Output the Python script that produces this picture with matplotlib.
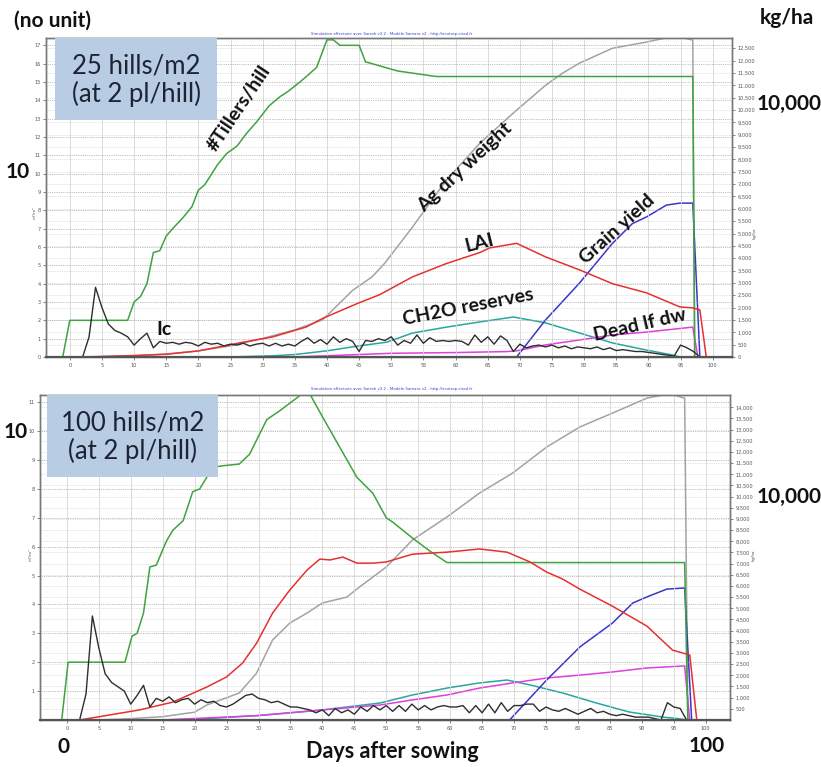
import matplotlib
matplotlib.use("Agg")
import matplotlib.pyplot as plt

# ---------------- DATA ----------------
# Top panel: 25 hills/m2
T_TILL_X = [-1.1, 0, 9, 10, 11, 12, 13, 14, 15, 16, 17.6, 19, 20, 21, 23, 24.4, 26, 27.5, 29, 31, 32.7, 34, 35.8, 36.8, 38.4, 40, 41, 42, 45, 46, 49, 51, 53, 57, 96.9, 97.2]
T_TILL_Y = [0, 2, 2, 3.0, 3.3, 4.0, 5.7, 5.8, 6.6, 7.0, 7.6, 8.2, 9.1, 9.4, 10.5, 11.1, 11.5, 12.2, 12.8, 13.7, 14.2, 14.5, 15.0, 15.3, 15.8, 17.3, 17.3, 17.0, 17.0, 16.1, 15.8, 15.6, 15.5, 15.3, 15.3, 0]

T_LAI_X = [2, 5, 10, 15, 20, 26.4, 31.6, 36.8, 39.3, 44.6, 48.2, 53.3, 58.6, 63.8, 65.3, 69.5, 74, 79.3, 84.4, 89.7, 94.9, 96.9, 98, 99]
T_LAI_Y = [0, 0.03, 0.08, 0.15, 0.33, 0.77, 1.1, 1.64, 2.1, 2.9, 3.4, 4.37, 5.1, 5.7, 5.95, 6.2, 5.46, 4.75, 4.0, 3.5, 2.73, 2.68, 2.57, 0]

T_AGDW_X = [3, 10, 15, 20, 25, 30, 35, 39.3, 44, 47, 49, 53.3, 58.6, 63.8, 69, 74, 76.7, 79.3, 84.4, 89.7, 93.3, 95, 96.9, 97.2]
T_AGDW_Y = [0, 50, 120, 250, 450, 750, 1100, 1500, 2700, 3240, 3800, 5260, 7170, 8660, 9880, 11000, 11500, 11900, 12500, 12750, 12950, 12950, 12830, 0]

T_GRAIN_X = [0, 69.5, 74, 79.3, 84.4, 87.5, 89.7, 92.8, 94.9, 96.9, 98]
T_GRAIN_Y = [0, 0, 1500, 3000, 4600, 5400, 5670, 6150, 6230, 6230, 0]

T_CH2O_X = [0, 25, 31.6, 35, 40, 45, 49.3, 53.3, 58.6, 63.8, 69, 74, 79.3, 84.4, 89.7, 93.8, 94.9]
T_CH2O_Y = [0, 0, 50, 100, 250, 450, 600, 970, 1210, 1420, 1620, 1380, 970, 570, 280, 80, 0]

T_DEAD_X = [0, 35, 40, 50, 60, 68, 69.5, 74, 79.3, 84.4, 89.7, 96.9, 97.7]
T_DEAD_Y = [0, 0, 50, 150, 180, 220, 250, 490, 690, 890, 1010, 1210, 0]

IC_DAYS = list(range(100))
T_IC = [0, 0, 0, 1.1, 3.8, 2.7, 1.8, 1.45, 1.3, 1.1,
        0.65, 1.0, 1.3, 0.5, 0.85, 0.75, 0.8, 0.7, 0.8, 0.75,
        0.6, 0.8, 0.7, 0.75, 0.6, 0.7, 0.65, 0.75, 0.6, 0.7,
        0.75, 0.6, 0.75, 0.6, 0.7, 0.6, 0.85, 1.05, 0.75, 0.95,
        0.7, 1.1, 0.8, 1.0, 0.85, 0.3, 0.9, 0.85, 1.0, 0.9,
        1.1, 0.65, 0.9, 0.75, 1.2, 0.75, 1.05, 0.85, 0.9, 0.85,
        0.9, 0.85, 0.65, 1.2, 0.8, 1.1, 0.7, 1.15, 0.9, 0.3,
        0.7, 0.5, 0.6, 0.65, 0.55, 0.65, 0.5, 0.6, 0.45, 0.55,
        0.5, 0.45, 0.55, 0.4, 0.5, 0.35, 0.4, 0.35, 0.3, 0.3,
        0.25, 0.2, 0.15, 0.1, 0.05, 0.65, 0.5, 0.3, 0.0, 0.0]

# Bottom panel: 100 hills/m2
B_TILL_X = [-0.8, 0.2, 9.1, 10.2, 11, 12, 13, 14, 15.6, 16.6, 18.2, 19.7, 20.8, 21.9, 22.8, 24.4, 27, 28.6, 31.3, 33.3, 35.4, 36.9, 38, 40, 42.7, 45.4, 47.9, 50, 51, 54.1, 56.8, 59.5, 96.7, 97.2]
B_TILL_Y = [0, 2, 2, 2.9, 3.0, 3.7, 5.3, 5.36, 6.2, 6.57, 6.9, 7.9, 8.0, 8.4, 8.75, 8.8, 8.86, 9.2, 10.4, 10.7, 11.05, 11.3, 11.3, 10.5, 9.45, 8.4, 7.85, 7.0, 6.85, 6.3, 5.85, 5.45, 5.45, 0]

B_LAI_X = [2, 11.4, 16.6, 21.9, 25, 27.5, 29.7, 32.2, 34.9, 37.6, 39.6, 41.2, 43.2, 45.4, 47.9, 50, 54.1, 59.5, 64.6, 68.9, 72.5, 75.1, 77.6, 80.3, 85.4, 90.8, 94.8, 97.5, 98.6]
B_LAI_Y = [0, 0.35, 0.62, 1.14, 1.49, 1.97, 2.66, 3.7, 4.5, 5.19, 5.57, 5.54, 5.64, 5.43, 5.43, 5.47, 5.74, 5.81, 5.92, 5.81, 5.47, 5.12, 4.88, 4.53, 3.94, 3.25, 2.42, 2.25, 0]

B_AGDW_X = [5, 10, 15, 20, 21.9, 27, 29.7, 32.2, 34.9, 37.6, 40, 43.8, 45.8, 50, 54.1, 59.5, 64.6, 69.8, 75.1, 80.3, 85.4, 90.8, 93.3, 95, 96.7, 97.2]
B_AGDW_Y = [0, 60, 150, 350, 670, 1210, 2100, 3580, 4340, 4790, 5240, 5500, 5950, 6850, 8060, 9090, 10160, 11060, 12220, 13120, 13740, 14410, 14550, 14550, 14410, 0]

B_GRAIN_X = [0, 69.3, 75.1, 80.3, 85.4, 88.6, 90.8, 93.9, 96.7, 97.8]
B_GRAIN_Y = [0, 0, 1790, 3270, 4340, 5240, 5510, 5860, 5910, 0]

B_CH2O_X = [0, 15, 20, 30, 40, 49, 54.1, 59.5, 64.6, 68.9, 72.5, 77.6, 82.9, 88, 93.3, 96, 97]
B_CH2O_Y = [0, 0, 30, 200, 450, 760, 1120, 1430, 1660, 1790, 1570, 1210, 760, 360, 130, 50, 0]

B_DEAD_X = [0, 15, 30, 40, 49, 54.1, 59.5, 64.6, 69.8, 75.1, 80.3, 85.4, 90.8, 96.7, 97.5]
B_DEAD_Y = [0, 0, 200, 450, 670, 900, 1120, 1430, 1660, 1880, 2010, 2150, 2330, 2420, 0]

B_IC = [0, 0, 0, 0.9, 3.6, 2.5, 1.6, 1.3, 1.15, 1.0,
        0.55, 0.85, 1.2, 0.45, 0.75, 0.65, 0.8, 0.6, 0.7, 0.75,
        0.55, 0.7, 0.6, 0.65, 0.5, 0.45, 0.55, 0.7, 0.85, 0.9,
        0.75, 0.7, 0.6, 0.65, 0.55, 0.45, 0.45, 0.4, 0.35, 0.25,
        0.35, 0.15, 0.4, 0.25, 0.35, 0.2, 0.45, 0.3, 0.5, 0.35,
        0.5, 0.3, 0.5, 0.3, 0.55, 0.35, 0.5, 0.35, 0.45, 0.5,
        0.45, 0.45, 0.5, 0.25, 0.5, 0.25, 0.55, 0.25, 0.6, 0.3,
        0.5, 0.5, 0.55, 0.55, 0.3, 0.45, 0.35, 0.3, 0.4, 0.3,
        0.2, 0.3, 0.4, 0.25, 0.3, 0.2, 0.15, 0.2, 0.15, 0.1,
        0.1, 0.1, 0.05, 0.0, 0.6, 0.45, 0.4, 0.0, 0.0, 0.0]

X_TICKS = list(range(0, 101, 5))
T_LEFT_TICKS = list(range(0, 18))
T_RIGHT_TICKS = list(range(0, 12501, 500))
B_LEFT_TICKS = list(range(1, 12))
B_RIGHT_TICKS = list(range(500, 14001, 500))

# ---------------- STYLE ----------------
W, H = 821, 767
C_GREEN = "#3fa33f"
C_GRAY = "#a3a3a3"
C_RED = "#e5312f"
C_BLUE = "#3a36c8"
C_TEAL = "#2aa6a0"
C_MAG = "#e03ee0"
C_BLACK = "#2e2e2e"
BOLD = "Lato"

fig = plt.figure(figsize=(W / 100, H / 100), dpi=100)
fig.patch.set_facecolor("white")


def rect(l, t, r, b):
    return [l / W, 1 - b / H, (r - l) / W, (b - t) / H]


def fxy(x, y):
    return x / W, 1 - y / H


def panel(box, xlim, lylim, rylim, lticks, rticks, left_series, right_series, ic):
    ax = fig.add_axes(rect(*box))
    ax2 = ax.twinx()
    ax.set_xlim(*xlim)
    ax.set_ylim(*lylim)
    ax2.set_ylim(*rylim)
    ax.set_xticks(X_TICKS)
    ax.set_xticklabels([str(v) for v in X_TICKS])
    ax.set_yticks(lticks)
    ax.set_yticklabels([str(v) for v in lticks])
    ax2.set_yticks(rticks)
    ax2.set_yticklabels([f"{v:,}" for v in rticks])
    for a in (ax, ax2):
        a.tick_params(labelsize=3.6, colors="#555555", length=2, width=0.5, pad=2)
        for s in a.spines.values():
            s.set_color("#777777")
            s.set_linewidth(1.0)
    ax.spines["bottom"].set_color("#555555")
    ax.spines["bottom"].set_linewidth(1.6)
    ax.grid(axis="x", color="#d6d6d6", lw=0.6, ls="-")
    ax.grid(axis="y", color="#a8a8a8", lw=0.6, ls=(0, (1, 1.2)))
    ax2.grid(axis="y", color="#c8c8c8", lw=0.5, ls=(0, (1, 1.5)))
    ax.set_axisbelow(True)
    # draw the left-axis curves above the twin axis
    ax.set_zorder(ax2.get_zorder() + 1)
    ax.patch.set_visible(False)
    ax2.patch.set_visible(True)
    ax2.patch.set_facecolor("white")
    for (xs, ys, c) in right_series:
        ax2.plot(xs, ys, color=c, lw=1.1)
    for (xs, ys, c) in left_series:
        ax.plot(xs, ys, color=c, lw=1.1)
    ax.plot(IC_DAYS, ic, color=C_BLACK, lw=1.0)
    return ax, ax2


# top panel
panel((46, 38, 732, 357), (-3.7, 103.0), (0, 17.4), (0, 12915),
      T_LEFT_TICKS, T_RIGHT_TICKS,
      [(T_TILL_X, T_TILL_Y, C_GREEN), (T_LAI_X, T_LAI_Y, C_RED)],
      [(T_AGDW_X, T_AGDW_Y, C_GRAY), (T_CH2O_X, T_CH2O_Y, C_TEAL),
       (T_DEAD_X, T_DEAD_Y, C_MAG), (T_GRAIN_X, T_GRAIN_Y, C_BLUE)],
      T_IC)

# bottom panel
panel((40, 395, 730, 720), (-4.2, 103.8), (0, 11.25), (0, 14550),
      B_LEFT_TICKS, B_RIGHT_TICKS,
      [(B_TILL_X, B_TILL_Y, C_GREEN), (B_LAI_X, B_LAI_Y, C_RED)],
      [(B_AGDW_X, B_AGDW_Y, C_GRAY), (B_CH2O_X, B_CH2O_Y, C_TEAL),
       (B_DEAD_X, B_DEAD_Y, C_MAG), (B_GRAIN_X, B_GRAIN_Y, C_BLUE)],
      B_IC)

# boxes
for (l, t, r, b, txt) in [(55, 38, 217, 120, "25 hills/m2\n(at 2 pl/hill)"),
                          (47, 395, 218, 477, "100 hills/m2\n(at 2 pl/hill)")]:
    fig.patches.append(plt.Rectangle((l / W, 1 - b / H), (r - l) / W, (b - t) / H,
                                     transform=fig.transFigure, facecolor="#b8cce4",
                                     edgecolor="none", zorder=5))
    fig.text(*fxy((l + r) / 2, (t + b) / 2 + 1), txt, ha="center", va="center",
             fontsize=18.5, family="Lato", color="#1d2535", linespacing=1.1, zorder=6)

# blue header text
for y in (34, 389):
    fig.text(*fxy(392, y), "Simulation effectuée avec Sarrah v3.2 - Modèle Samara v2 - http://ecotrop.cirad.fr",
             ha="center", va="center", fontsize=2.8, color="#3344cc")

# tiny axis unit labels
for (x, y) in [(35, 213), (31, 555)]:
    fig.text(*fxy(x, y), "m²/m²", rotation=90, ha="center", va="center", fontsize=3, color="#555555")
for (x, y) in [(755, 233), (754, 555)]:
    fig.text(*fxy(x, y), "kg/ha", rotation=90, ha="center", va="center", fontsize=3, color="#555555")


# annotations
def btxt(x, y, s, size=14, rot=0):
    fig.text(*fxy(x, y), s, ha="center", va="center", fontsize=size, fontweight="bold",
             family=BOLD, rotation=rot, rotation_mode="anchor", color="#111111", zorder=7)


btxt(52, 21, "(no unit)", 15)
btxt(787, 18, "kg/ha", 15)
btxt(18, 172, "10", 15)
btxt(789, 104, "10,000", 15)
btxt(16, 432, "10", 15)
btxt(789, 497, "10,000", 15)
btxt(63, 747, "0", 15)
btxt(707, 746, "100", 15)
btxt(392, 751, "Days after sowing", 15.5)

btxt(239, 108, "#Tillers/hill", 14, 56)
btxt(465, 167, "Ag dry weight", 14, 43)
btxt(479, 243, "LAI", 14, 14)
btxt(617, 229, "Grain yield", 14, 42)
btxt(468, 307, "CH2O reserves", 14, 11)
btxt(640, 325, "Dead lf dw", 14, 13)
btxt(164, 330, "Ic", 14, 0)

fig.savefig("out.png", dpi=100, facecolor="white")
